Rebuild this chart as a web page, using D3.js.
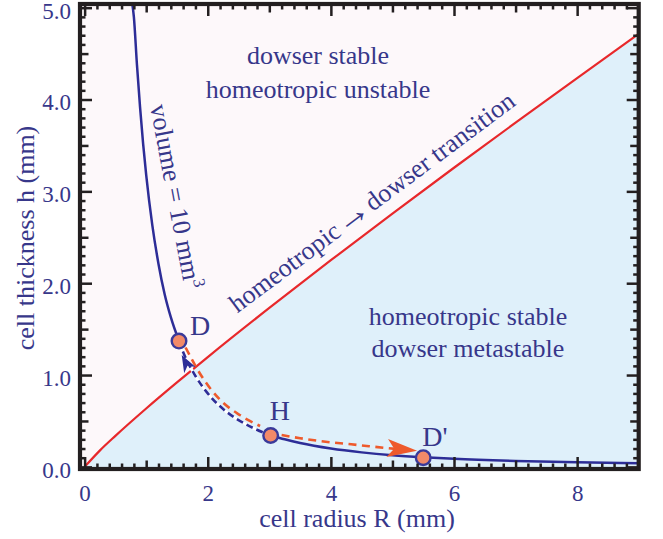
<!DOCTYPE html>
<html>
<head>
<meta charset="utf-8">
<script src="https://cdn.jsdelivr.net/npm/d3@7"></script>
<style>
  html, body { margin: 0; padding: 0; background: #ffffff; }
  svg { display: block; font-family: "Liberation Serif", "Times New Roman", "DejaVu Serif", serif; }
  svg text { font-family: "Liberation Serif", "Times New Roman", serif; }
</style>
</head>
<body>
<svg id="chart" width="663" height="539"></svg>
<script>
// Homeotropic -> dowser transition boundary (red line): radius R (mm), thickness h (mm)
const boundaryR = [0, 0.25, 0.5, 1, 1.5, 2, 3, 4, 5, 6, 7, 8, 9];
const boundaryH = [0, 0.180, 0.338, 0.636, 0.920, 1.196, 1.731, 2.250, 2.758, 3.257, 3.748, 4.234, 4.715];

// Constant-volume curve, V = 10 mm^3, split at the states D and H
const volUpperR = [0.775, 0.80, 0.85, 0.90, 0.95, 1.00, 1.10, 1.20, 1.30, 1.40, 1.533];
const volUpperH = [5.04, 4.90, 4.38, 3.92, 3.52, 3.18, 2.63, 2.21, 1.88, 1.63, 1.37];
const volMidR = [1.533, 1.60, 1.80, 2.00, 2.25, 2.50, 2.75, 3.022];
const volMidH = [1.37, 1.25, 0.99, 0.80, 0.63, 0.51, 0.42, 0.342];
const volLowerR = [3.022, 3.25, 3.5, 4.0, 4.5, 5.0, 5.5, 6.0, 7.0, 8.0, 9.0];
const volLowerH = [0.342, 0.30, 0.26, 0.20, 0.158, 0.127, 0.105, 0.088, 0.065, 0.050, 0.040];

// Process paths: D -> H (orange), H -> D' (orange, arrow), H -> D (blue arrow tip)
const pathDownR = [1.64, 1.87, 2.20, 2.52, 2.85];
const pathDownH = [1.30, 1.02, 0.73, 0.565, 0.445];
const pathOutR = [3.20, 3.50, 3.78, 4.05, 4.33, 4.62, 5.40];
const pathOutH = [0.347, 0.312, 0.285, 0.264, 0.246, 0.225, 0.175];
const returnTipR = [1.577];
const returnTipH = [1.217];

// Marked states
const stateNames = ["D", "H", "D'"];
const stateR = [1.533, 3.022, 5.50];
const stateH = [1.37, 0.342, 0.100];

// Axis ticks
const xTickValues = [0, 2, 4, 6, 8];
const xTickLabels = ["0", "2", "4", "6", "8"];
const yTickValues = [0, 1, 2, 3, 4, 5];
const yTickLabels = ["0.0", "1.0", "2.0", "3.0", "4.0", "5.0"];

const ink = "#37378a";
const curveBlue = "#2d2d97";
const orange = "#ee5a2c";
const frameInk = "#231f20";
const serif = '"Liberation Serif", "Times New Roman", serif';

const svg = d3.select("#chart");
const frame = { left: 80, right: 638.7, top: 4, bottom: 469 };

const x = d3.scaleLinear().domain([-0.075, 9.0]).range([frame.left, frame.right]);
const y = d3.scaleLinear().domain([-0.023, 5.04]).range([frame.bottom, frame.top]);

const zip = (rs, hs) => rs.map((r, i) => [r, hs[i]]);

svg.append("defs").append("clipPath").attr("id", "plot-clip")
  .append("rect")
  .attr("x", frame.left).attr("y", frame.top)
  .attr("width", frame.right - frame.left).attr("height", frame.bottom - frame.top);

const plot = svg.append("g").attr("clip-path", "url(#plot-clip)");

// Region backgrounds
plot.append("rect")
  .attr("x", frame.left).attr("y", frame.top)
  .attr("width", frame.right - frame.left).attr("height", frame.bottom - frame.top)
  .attr("fill", "#fdf8fa");

const boundary = zip(boundaryR, boundaryH);
plot.append("path")
  .datum(boundary)
  .attr("fill", "#dff0fa")
  .attr("d", d3.area().x(d => x(d[0])).y0(frame.bottom).y1(d => y(d[1])).curve(d3.curveMonotoneX));

plot.append("path")
  .datum(boundary)
  .attr("fill", "none").attr("stroke", "#e8282b").attr("stroke-width", 2.2)
  .attr("d", d3.line().x(d => x(d[0])).y(d => y(d[1])).curve(d3.curveMonotoneX));

const line = d3.line().x(d => x(d[0])).y(d => y(d[1])).curve(d3.curveMonotoneX);

// Constant-volume curve
plot.append("path").datum(zip(volUpperR, volUpperH))
  .attr("fill", "none").attr("stroke", curveBlue).attr("stroke-width", 2.5).attr("d", line);
plot.append("path").datum(zip(volLowerR, volLowerH))
  .attr("fill", "none").attr("stroke", curveBlue).attr("stroke-width", 2.5).attr("d", line);
plot.append("path").datum(zip(volMidR, volMidH))
  .attr("fill", "none").attr("stroke", "#ffffff").attr("stroke-width", 3).attr("d", line);
plot.append("path").datum(zip(volMidR, volMidH))
  .attr("fill", "none").attr("stroke", curveBlue).attr("stroke-width", 2.6)
  .attr("stroke-dasharray", "7 4").attr("d", line);

// Orange process paths
plot.append("path").datum(zip(pathDownR, pathDownH))
  .attr("fill", "none").attr("stroke", orange).attr("stroke-width", 2.6)
  .attr("stroke-dasharray", "8 5.5").attr("d", line);
const outPts = zip(pathOutR, pathOutH);
plot.append("path").datum(outPts.slice(0, -1).concat([[5.05, 0.196]]))
  .attr("fill", "none").attr("stroke", orange).attr("stroke-width", 2.6)
  .attr("stroke-dasharray", "8 5.5").attr("d", line);

// Arrowheads
function arrowHead(tip, from, len, half, notch, color) {
  const tx = x(tip[0]), ty = y(tip[1]);
  const ang = Math.atan2(ty - y(from[1]), tx - x(from[0])) * 180 / Math.PI;
  plot.append("path")
    .attr("d", `M0,0 L${-len},${-half} L${-notch},0 L${-len},${half} Z`)
    .attr("transform", `translate(${tx},${ty}) rotate(${ang})`)
    .attr("fill", color);
}
arrowHead(outPts[outPts.length - 1], outPts[outPts.length - 2], 30, 9, 23, orange);
arrowHead([returnTipR[0], returnTipH[0]], [1.64, 1.14], 17, 6.5, 12, curveBlue);

// State markers
const states = stateNames.map((n, i) => ({ name: n, r: stateR[i], h: stateH[i] }));
plot.selectAll("circle.state").data(states).join("circle")
  .attr("class", "state")
  .attr("cx", d => x(d.r)).attr("cy", d => y(d.h)).attr("r", 7.3)
  .attr("fill", "#f28a68").attr("stroke", "#3a3a9a").attr("stroke-width", 2.4);

const labelOffset = { "D": [11, -6], "H": [-1, -15], "D'": [-1, -12] };
svg.selectAll("text.state").data(states).join("text")
  .attr("class", "state")
  .attr("x", d => x(d.r) + labelOffset[d.name][0])
  .attr("y", d => y(d.h) + labelOffset[d.name][1])
  .attr("font-size", 28).attr("fill", ink)
  .text(d => d.name);

// Frame
svg.append("rect")
  .attr("x", frame.left).attr("y", frame.top)
  .attr("width", frame.right - frame.left).attr("height", frame.bottom - frame.top)
  .attr("fill", "none").attr("stroke", frameInk).attr("stroke-width", 4.2);

// Inward ticks on all four sides
const xSteps = d3.range(0, 45);           // every 0.2 mm
const ySteps = d3.range(0, 51);           // every 0.1 mm
const xMinor = xSteps.filter(i => i % 5 !== 0).map(i => i * 0.2);
const xMedium = xSteps.filter(i => i % 5 === 0 && i % 10 !== 0).map(i => i / 5);
const xMajor = xSteps.filter(i => i % 10 === 0).map(i => i / 5);
const yMinor = ySteps.filter(i => i % 5 !== 0).map(i => i / 10);
const yMedium = ySteps.filter(i => i % 5 === 0 && i % 10 !== 0).map(i => i / 10);
const yMajor = ySteps.filter(i => i % 10 === 0).map(i => i / 10);

function ticks(axisFn, scale, values, len, transform) {
  svg.append("g").attr("transform", transform)
    .call(axisFn(scale).tickValues(values).tickSize(-len).tickFormat(""))
    .call(g => g.select(".domain").remove())
    .call(g => g.selectAll(".tick line").attr("stroke", frameInk).attr("stroke-width", 2.5));
}
[[xMinor, 5.5], [xMedium, 8.5], [xMajor, 12]].forEach(([v, len]) => {
  ticks(d3.axisBottom, x, v, len, `translate(0,${frame.bottom})`);
  ticks(d3.axisTop, x, v, len, `translate(0,${frame.top})`);
});
[[yMinor, 5.5], [yMedium, 8.5], [yMajor, 12]].forEach(([v, len]) => {
  ticks(d3.axisLeft, y, v, len, `translate(${frame.left},0)`);
  ticks(d3.axisRight, y, v, len, `translate(${frame.right},0)`);
});

// Tick labels
svg.append("g").attr("transform", `translate(0,${frame.bottom})`)
  .call(d3.axisBottom(x).tickValues(xTickValues).tickSize(0).tickPadding(16)
    .tickFormat((d, i) => xTickLabels[i]))
  .call(g => g.select(".domain").remove())
  .call(g => g.selectAll("text")
    .style("font-family", serif).style("font-size", "23px").attr("fill", ink));

svg.append("g").attr("transform", `translate(${frame.left},3)`)
  .call(d3.axisLeft(y).tickValues(yTickValues).tickSize(0).tickPadding(9)
    .tickFormat((d, i) => yTickLabels[i]))
  .call(g => g.select(".domain").remove())
  .call(g => g.selectAll("text")
    .style("font-family", serif).style("font-size", "23px").attr("fill", ink));

// Axis titles
svg.append("text")
  .attr("x", 357).attr("y", 527)
  .attr("text-anchor", "middle").attr("font-size", 26).attr("fill", ink)
  .text("cell radius R (mm)");
svg.append("text")
  .attr("transform", "translate(34,238) rotate(-90)")
  .attr("text-anchor", "middle").attr("font-size", 26).attr("fill", ink)
  .text("cell thickness h (mm)");

// Region labels
const regionText = [
  ["dowser stable", 318, 64],
  ["homeotropic unstable", 318, 98],
  ["homeotropic stable", 468, 325],
  ["dowser metastable", 468, 357]
];
svg.selectAll("text.region").data(regionText).join("text")
  .attr("class", "region")
  .attr("x", d => d[1]).attr("y", d => d[2])
  .attr("text-anchor", "middle").attr("font-size", 26).attr("fill", ink)
  .text(d => d[0]);

// Curve annotations
const vol = svg.append("text")
  .attr("transform", "translate(150,106) rotate(79.3)")
  .attr("font-size", 26).attr("fill", ink);
vol.append("tspan").text("volume = 10 mm");
vol.append("tspan").attr("dy", -10).attr("font-size", 17).text("3");

const trans = svg.append("text")
  .attr("transform", "translate(377,209) rotate(-36.8)")
  .attr("text-anchor", "middle").attr("font-size", 26).attr("fill", ink);
trans.append("tspan").text("homeotropic");
trans.append("tspan").attr("font-size", 36).attr("dy", 1.5).attr("dx", 1).text("\u2192");
trans.append("tspan").attr("dy", -1.5).attr("dx", 1).text("dowser transition");
</script>
</body>
</html>
